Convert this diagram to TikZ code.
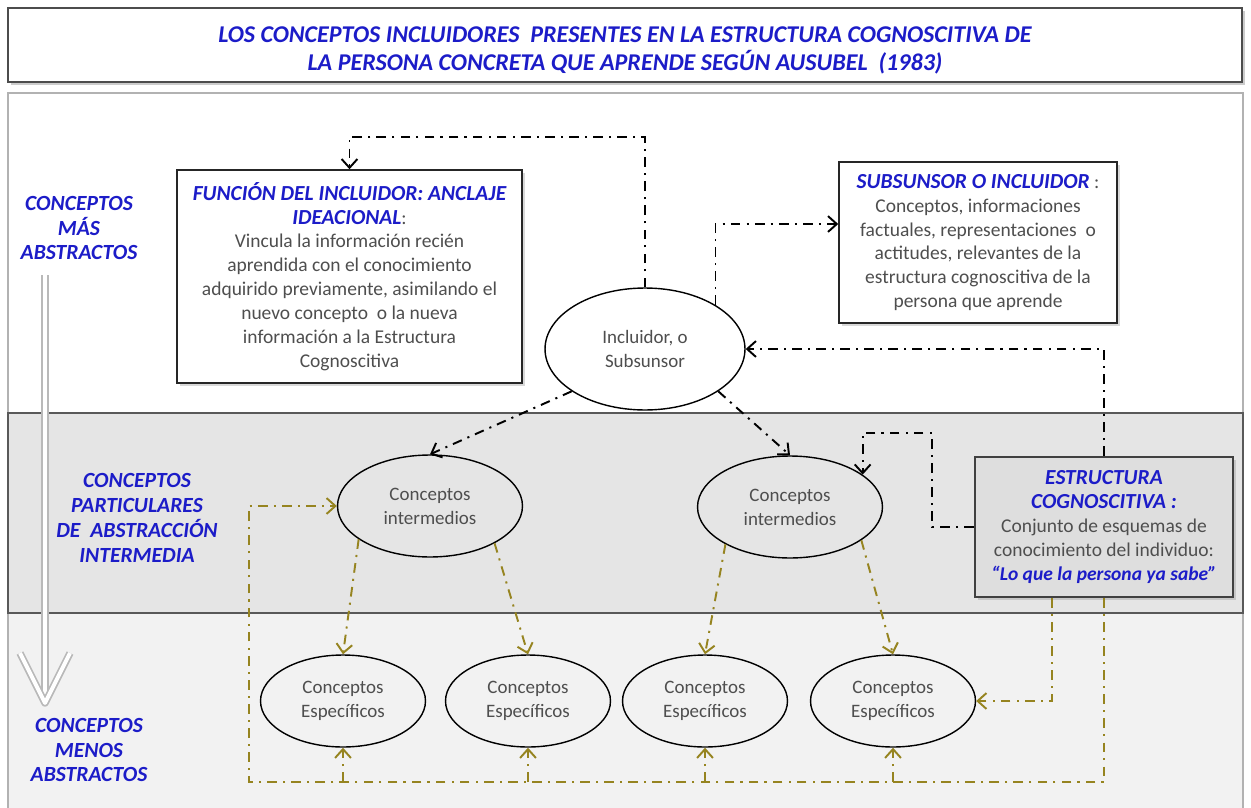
\documentclass[tikz,border=0pt]{standalone}
\usepackage{fontspec}
\setmainfont{Carlito}
\usetikzlibrary{arrows.meta, positioning, shapes.geometric, shadows}

\definecolor{headblue}{RGB}{28,28,200}
\definecolor{textgray}{RGB}{78,78,78}
\definecolor{linkolive}{RGB}{150,132,32}
\definecolor{midband}{RGB}{229,229,229}
\definecolor{lowband}{RGB}{242,242,242}

\newcommand{\boxhead}[1]{\textcolor{headblue}{\bfseries\itshape\fontsize{12.2}{13.6}\selectfont #1}}

\tikzset{
  infobox/.style={draw=black!85, line width=0.9pt, fill=white, align=center, text=textgray,
    font=\fontsize{11.1}{13.6}\selectfont, inner sep=2pt,
    drop shadow={shadow xshift=1.5pt, shadow yshift=-1.5pt, opacity=0.3}},
  conceptnode/.style={draw, ellipse, line width=0.8pt, align=center, text=textgray, inner sep=0pt,
    font=\fontsize{10.8}{13.6}\selectfont},
  levellabel/.style={align=center, text=headblue, font=\bfseries\itshape\fontsize{12.3}{14.2}\selectfont},
  blacklink/.style={line width=1.1pt, dash pattern=on 5.5pt off 3.5pt on 1.2pt off 3.5pt,
    -{Straight Barb[length=5pt, width=9pt]}},
  olivelink/.style={blacklink, draw=linkolive},
  levelarrow/.style={draw=gray!55, line width=1pt, double=white, double distance=2.2pt, line join=round}
}

\begin{document}
\begin{tikzpicture}[x=0.02cm, y=-0.02cm]
  \useasboundingbox (0,0) rectangle (1251,808);
  \fill[white] (8,93) rectangle (1243,413);
  \fill[midband] (8,413) rectangle (1243,613);
  \fill[lowband] (8,613) rectangle (1243,808);
  \draw[gray!60, line width=0.9pt] (8,808) -- (8,93) -- (1243,93) -- (1243,808);
  \draw[black!65, line width=1pt] (8,413) rectangle (1243,613);

  \draw[draw=black!70, line width=1.3pt, fill=white,
    drop shadow={shadow xshift=1.5pt, shadow yshift=-1.5pt, opacity=0.4}] (8,8) rectangle (1242,82);
  \node[align=center, text=headblue, font=\bfseries\itshape\fontsize{13.7}{15.9}\selectfont] (title) at (625,50)
    {LOS CONCEPTOS INCLUIDORES~ PRESENTES EN LA ESTRUCTURA COGNOSCITIVA DE\\
     LA PERSONA CONCRETA QUE APRENDE SEGÚN AUSUBEL~ (1983)};

  \node[levellabel] (mostabs) at (79,228) {CONCEPTOS\\MÁS\\ABSTRACTOS};
  \node[levellabel] (midabs) at (137,518) {CONCEPTOS\\PARTICULARES\\DE~ ABSTRACCIÓN\\INTERMEDIA};
  \node[levellabel] (leastabs) at (89,750) {CONCEPTOS\\MENOS\\ABSTRACTOS};

  \coordinate (levtop) at (45,275);
  \coordinate (levtip) at (45,703);
  \draw[levelarrow] (levtop) -- (levtip);
  \draw[levelarrow] ([shift={(-25,-50)}]levtip) -- (levtip) -- ([shift={(25,-50)}]levtip);

  \node[infobox, minimum width=6.9cm, minimum height=4.26cm] (anchor) at (349.5,276.5)
    {\boxhead{FUNCIÓN DEL INCLUIDOR: ANCLAJE}\\
     \boxhead{IDEACIONAL}:\\
     Vincula la información recién\\
     aprendida con el conocimiento\\
     adquirido previamente, asimilando el\\
     nuevo concepto~ o la nueva\\
     información a la Estructura\\
     Cognoscitiva};
  \node[infobox, minimum width=5.56cm, minimum height=3.22cm] (subsun) at (978,242.5)
    {\boxhead{SUBSUNSOR O INCLUIDOR} :\\
     Conceptos, informaciones\\
     factuales, representaciones~ o\\
     actitudes, relevantes de la\\
     estructura cognoscitiva de la\\
     persona que aprende};
  \node[infobox, fill=black!13, draw=black!75, line width=1.3pt, minimum width=5.16cm,
    minimum height=2.8cm] (estr) at (1104,527)
    {\boxhead{ESTRUCTURA}\\
     \boxhead{COGNOSCITIVA :}\\
     Conjunto de esquemas de\\
     conocimiento del individuo:\\
     \textcolor{headblue}{\bfseries\itshape “Lo que la persona ya sabe”}};

  \node[conceptnode, fill=white, minimum width=4cm, minimum height=2.44cm] (incl) at (645,349)
    {Incluidor, o\\Subsunsor};
  \node[conceptnode, minimum width=3.7cm, minimum height=2.04cm] (interL) at (430,506)
    {Conceptos\\intermedios};
  \node[conceptnode, minimum width=3.7cm, minimum height=2.04cm] (interR) at (790,507)
    {Conceptos\\intermedios};
  \foreach \name/\xpos in {spec1/343, spec2/528, spec3/705, spec4/893}
    \node[conceptnode, minimum width=3.3cm, minimum height=1.84cm] (\name) at (\xpos,701)
      {Conceptos\\Específicos};

  \coordinate (toploop) at (0,137);
  \draw[blacklink] (incl.north) -- (incl.north |- toploop) -- (anchor.north |- toploop) -- (anchor.north);
  \draw[blacklink] (incl.32) |- ([yshift=0.37cm]subsun.west);
  \draw[blacklink] (estr.north) |- (incl.east);
  \draw[blacklink] (incl.210) -- (interL.north);
  \draw[blacklink] (incl.330) -- (interR.north);
  \coordinate (estrturn) at (932,433);
  \draw[blacklink] (estr.west) -| (estrturn) -| (interR.24);

  \coordinate (oliveloop) at (249,782);
  \draw[olivelink] (estr.south) |- (oliveloop) |- (interL.west);
  \foreach \name in {spec1, spec2, spec3, spec4}
    \draw[olivelink] (\name.south |- oliveloop) -- (\name.south);
  \draw[olivelink] ([xshift=-1.04cm]estr.south) |- (spec4.east);
  \draw[olivelink] (interL.205) -- (spec1.north);
  \draw[olivelink] (interL.330) -- (spec2.north);
  \draw[olivelink] (interR.210) -- (spec3.north);
  \draw[olivelink] (interR.335) -- (spec4.north);
\end{tikzpicture}
\end{document}
